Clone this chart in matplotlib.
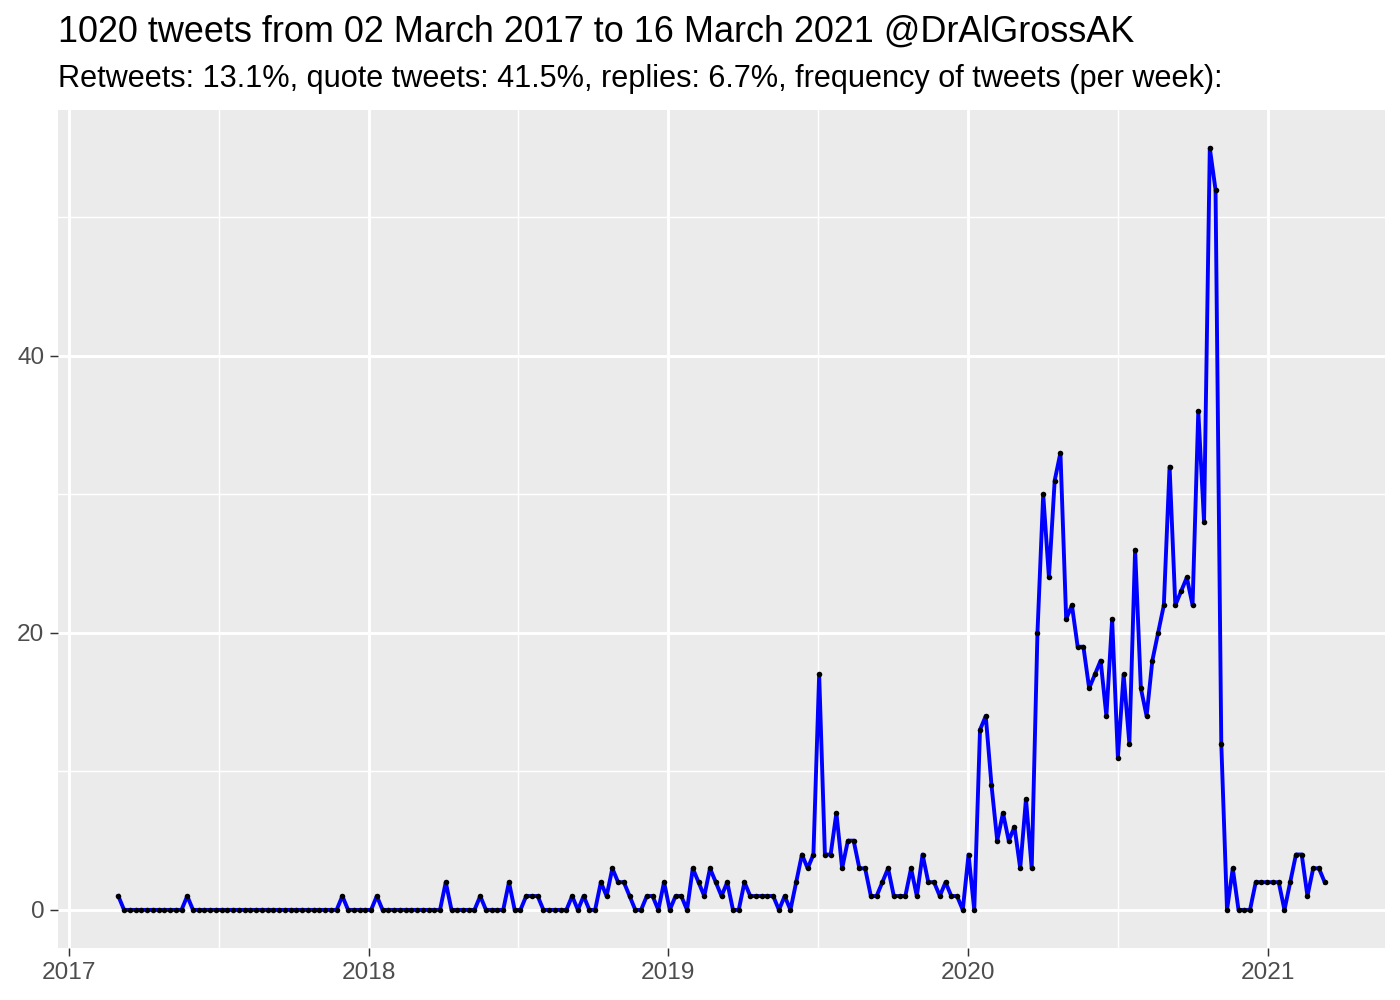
import numpy as np
import pandas as pd
import matplotlib
matplotlib.use("Agg")
import matplotlib.pyplot as plt
import matplotlib.dates as mdates

plt.rcParams['font.family'] = ['Liberation Sans', 'DejaVu Sans']

start_date = "2017-03-02"
tweets_per_week = [
    1, 0, 0, 0, 0, 0, 0, 0, 0, 0,
    0, 0, 1, 0, 0, 0, 0, 0, 0, 0,
    0, 0, 0, 0, 0, 0, 0, 0, 0, 0,
    0, 0, 0, 0, 0, 0, 0, 0, 0, 1,
    0, 0, 0, 0, 0, 1, 0, 0, 0, 0,
    0, 0, 0, 0, 0, 0, 0, 2, 0, 0,
    0, 0, 0, 1, 0, 0, 0, 0, 2, 0,
    0, 1, 1, 1, 0, 0, 0, 0, 0, 1,
    0, 1, 0, 0, 2, 1, 3, 2, 2, 1,
    0, 0, 1, 1, 0, 2, 0, 1, 1, 0,
    3, 2, 1, 3, 2, 1, 2, 0, 0, 2,
    1, 1, 1, 1, 1, 0, 1, 0, 2, 4,
    3, 4, 17, 4, 4, 7, 3, 5, 5, 3,
    3, 1, 1, 2, 3, 1, 1, 1, 3, 1,
    4, 2, 2, 1, 2, 1, 1, 0, 4, 0,
    13, 14, 9, 5, 7, 5, 6, 3, 8, 3,
    20, 30, 24, 31, 33, 21, 22, 19, 19, 16,
    17, 18, 14, 21, 11, 17, 12, 26, 16, 14,
    18, 20, 22, 32, 22, 23, 24, 22, 36, 28,
    55, 52, 12, 0, 3, 0, 0, 0, 2, 2,
    2, 2, 2, 0, 2, 4, 4, 1, 3, 3, 2,
]
year_ticks = ["2017-01-01", "2018-01-01", "2019-01-01", "2020-01-01", "2021-01-01"]
year_labels = ["2017", "2018", "2019", "2020", "2021"]
y_ticks = [0, 20, 40]
y_minor = [10, 30, 50]

title = "1020 tweets from 02 March 2017 to 16 March 2021 @DrAlGrossAK"
subtitle = "Retweets: 13.1%, quote tweets: 41.5%, replies: 6.7%, frequency of tweets (per week):"

dates = pd.date_range(start=start_date, periods=len(tweets_per_week), freq="7D")
x = mdates.date2num(dates.to_pydatetime())
y = np.array(tweets_per_week)

fig = plt.figure(figsize=(7, 5), dpi=200)
ax = fig.add_axes([58/1400, 52/1000, (1385-58)/1400, (948-110)/1000])
ax.set_facecolor("#EBEBEB")
for s in ax.spines.values():
    s.set_visible(False)

xmaj = mdates.date2num(pd.to_datetime(year_ticks).to_pydatetime())
xmin_ = (xmaj[:-1] + xmaj[1:]) / 2

# ranges with 5% expansion like ggplot
xr = x.max() - x.min()
ax.set_xlim(x.min() - 0.05 * xr, x.max() + 0.05 * xr)
yr = y.max() - y.min()
ax.set_ylim(y.min() - 0.05 * yr, y.max() + 0.05 * yr)

for v in y_minor:
    ax.axhline(v, color="white", lw=0.53, zorder=0)
for v in xmin_:
    ax.axvline(v, color="white", lw=0.53, zorder=0)
ax.axvline(xmaj[-1] + (xmaj[1]-xmaj[0]) / 2, color="white", lw=0.53, zorder=0)
for v in y_ticks:
    ax.axhline(v, color="white", lw=1.07, zorder=0)
for v in xmaj:
    ax.axvline(v, color="white", lw=1.07, zorder=0)

ax.plot(x, y, color="#0000FF", lw=1.4, zorder=2)
ax.plot(x, y, 'o', color="black", ms=2.0, mew=0, zorder=3)

ax.set_xticks(xmaj)
ax.set_xticklabels(year_labels)
ax.set_yticks(y_ticks)
ax.set_yticklabels([str(v) for v in y_ticks])
ax.tick_params(axis="both", colors="#333333", length=2.75, width=0.53,
               labelsize=8.8, labelcolor="#4D4D4D", pad=2.2)

fig.text(58/1400, 1 - 42/1000, title, fontsize=12.98, color="black", ha="left", va="baseline")
fig.text(58/1400, 1 - 87/1000, subtitle, fontsize=11.05, color="black", ha="left", va="baseline")

fig.savefig("out.png", dpi=200)
